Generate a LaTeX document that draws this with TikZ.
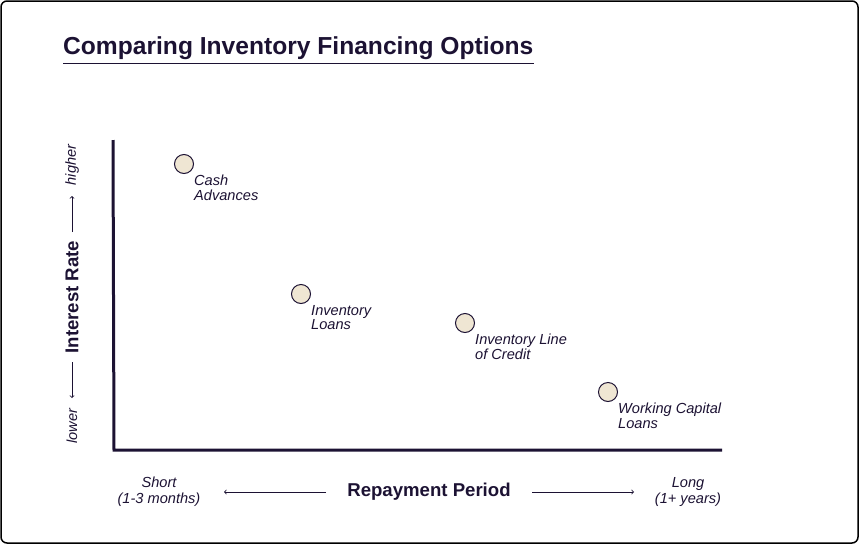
\documentclass[tikz,border=0pt]{standalone}
\usepackage{fontspec}
\setmainfont{Liberation Sans}
\definecolor{navy}{HTML}{1C1233}
\definecolor{dotfill}{HTML}{EFE6D3}
\begin{document}
\begin{tikzpicture}[x=1pt,y=-1pt,
  dot/.style={circle,draw=navy,fill=dotfill,line width=1pt,minimum size=19pt,inner sep=0pt},
  lab/.style={anchor=north west,align=left,font=\fontsize{14.6}{14.5}\selectfont\itshape,text=navy,inner sep=0pt},
  axl/.style={font=\fontsize{14.6}{16}\selectfont\itshape,text=navy,align=center,inner sep=0pt},
  big/.style={font=\fontsize{18.6}{18.6}\selectfont\bfseries,text=navy,inner sep=0pt}]
\useasboundingbox (0,0) rectangle (859,544);
\draw[line width=1.5pt,rounded corners=6pt] (1,1) rectangle (858,543);
\node[anchor=west,inner sep=0pt,font=\fontsize{24.6}{24.6}\selectfont\bfseries,text=navy] (t) at (63,48) {Comparing Inventory Financing Options};
\draw[navy,line width=1.5pt] ([yshift=-4pt]t.south west) -- ([yshift=-4pt]t.south east);
\coordinate (o) at (114,450);
\coordinate (ytop) at (113,140);
\coordinate (xend) at (722,450);
\draw[navy,line width=3pt] (ytop) -- (o) -- (xend);
\node[dot] (c1) at (184,164) {};
\node[dot] (c2) at (301,294) {};
\node[dot] (c3) at (465,323) {};
\node[dot] (c4) at (608,392) {};
\node[lab] at (194,175) {Cash\\Advances};
\node[lab] at (311,305) {Inventory\\Loans};
\node[lab] at (475,334) {Inventory Line\\of Credit};
\node[lab] at (618,403) {Working Capital\\Loans};
\node[axl] (sh) at (159,492) {Short\\(1-3 months)};
\node[axl] (lg) at (688,492) {Long\\(1+ years)};
\node[big] (rp) at (429,492) {Repayment Period};
\coordinate (la) at (224,492); \coordinate (lb) at (326,492);
\coordinate (ra) at (532,492); \coordinate (rb) at (634,492);
\draw[navy,->,line width=0.8pt] (lb) -- (la);
\draw[navy,->,line width=0.8pt] (ra) -- (rb);
\node[big,rotate=90] (ir) at (72,297) {Interest Rate};
\node[axl,rotate=90] (lo) at (72,426) {lower};
\node[axl,rotate=90] (hi) at (72,165) {higher};
\draw[navy,->,line width=0.8pt] (72,362) -- (72,398);
\draw[navy,->,line width=0.8pt] (72,232) -- (72,196);
\end{tikzpicture}
\end{document}
